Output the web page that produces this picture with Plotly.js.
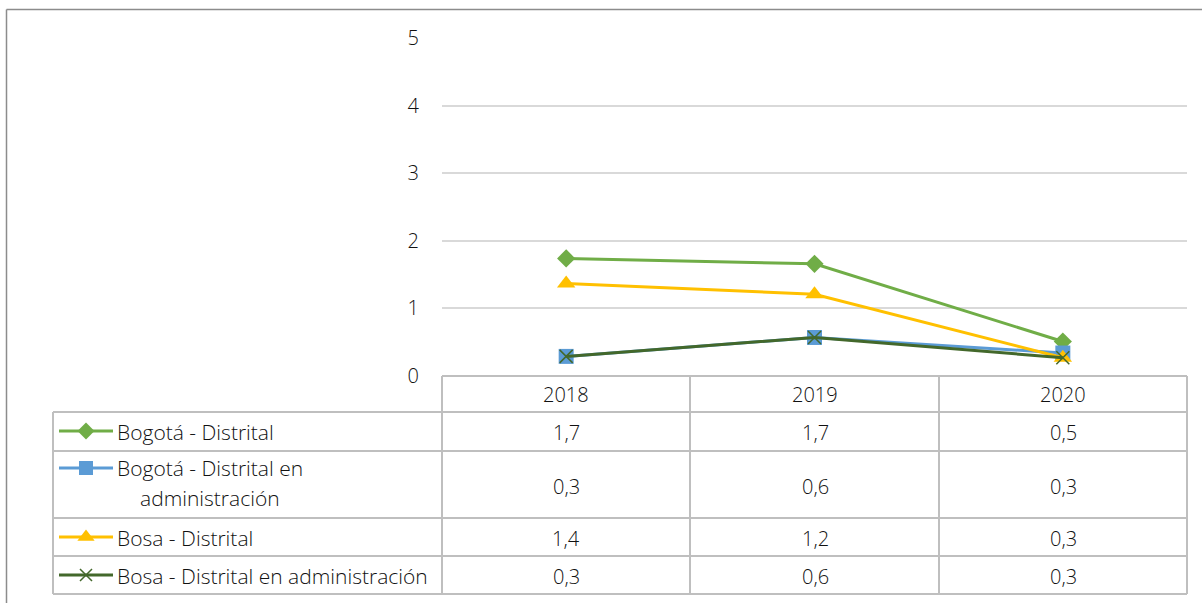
<!DOCTYPE html>
<html>
<head>
<meta charset="utf-8">
<script src="https://cdn.plot.ly/plotly-3.0.1.min.js"></script>
<style>html,body{margin:0;padding:0;background:#fff;}#chart{width:1202px;height:603px;}</style>
</head>
<body>
<div id="chart"></div>
<script>
// ---- data ----
const years = ['2018', '2019', '2020'];
const seriesNames = ['Bogotá - Distrital', 'Bogotá - Distrital en administración', 'Bosa - Distrital', 'Bosa - Distrital en administración'];
const bogotaDistrital = [1.74, 1.66, 0.51];
const bogotaAdmin = [0.29, 0.57, 0.34];
const bosaDistrital = [1.37, 1.21, 0.27];
const bosaAdmin = [0.29, 0.57, 0.27];
const yTicks = [0, 1, 2, 3, 4, 5];

// ---- layout constants (pixels) ----
const W = 1202, H = 603;
const colors = ['#70AD47', '#5B9BD5', '#FFC000', '#43682B'];
const symbols = ['diamond', 'square', 'triangle-up', 'x-thin'];
const msize = [14, 15, 16, 13];
const seriesVals = [bogotaDistrital, bogotaAdmin, bosaDistrital, bosaAdmin];
const plotL = 442, plotR = 1187, plotT = 38, plotB = 376;
const tableL = 53, headB = 412;
const rowB = [451, 518, 556, 594];
const colX = [442, 690, 939, 1187];
const px = x => x / W, py = y => 1 - y / H;
const FONT = '"Open Sans", "Noto Sans", sans-serif';
const TXT = '#111111';
const fnt = (s) => ({family: FONT, size: s || 20, color: TXT, weight: 300});

const traces = seriesVals.map((v, i) => ({
  x: years, y: v, type: 'scatter', mode: 'lines+markers', name: seriesNames[i],
  line: {color: colors[i], width: 3},
  marker: {symbol: symbols[i], size: msize[i], color: colors[i],
           line: {color: colors[i], width: symbols[i] === 'x-thin' ? 1.5 : 0}},
  xaxis: 'x', yaxis: 'y', showlegend: false, hoverinfo: 'skip'
}));

// legend keys in the table (helper axes in pixel units)
const keyY = [431, 468, 537, 575];
seriesVals.forEach((v, i) => {
  traces.push({
    x: [59, 113], y: [keyY[i], keyY[i]], type: 'scatter', mode: 'lines',
    line: {color: colors[i], width: 3}, xaxis: 'x2', yaxis: 'y2', showlegend: false, hoverinfo: 'skip'
  });
  traces.push({
    x: [86], y: [keyY[i]], type: 'scatter', mode: 'markers',
    marker: {symbol: symbols[i], size: msize[i] - 1, color: colors[i],
             line: {color: colors[i], width: symbols[i] === 'x-thin' ? 1.5 : 0}},
    xaxis: 'x2', yaxis: 'y2', showlegend: false, hoverinfo: 'skip'
  });
});

const shapes = [];
const lineC = '#BFBFBF';
function hl(y, x0, x1) { shapes.push({type: 'line', xref: 'paper', yref: 'paper', x0: px(x0), x1: px(x1), y0: py(y), y1: py(y), line: {color: lineC, width: 2}}); }
function vl(x, y0, y1) { shapes.push({type: 'line', xref: 'paper', yref: 'paper', x0: px(x), x1: px(x), y0: py(y0), y1: py(y1), line: {color: lineC, width: 2}}); }
hl(plotB, plotL, plotR);
hl(headB, tableL, plotR);
rowB.forEach(y => hl(y, tableL, plotR));
vl(tableL, headB, rowB[3]);
colX.forEach(x => vl(x, plotB, rowB[3]));
// outer chart frame (cropped)
shapes.push({type: 'line', xref: 'paper', yref: 'paper', x0: px(6.5), x1: px(W), y0: py(9.5), y1: py(9.5), line: {color: '#8C8C8C', width: 1.5}});
shapes.push({type: 'line', xref: 'paper', yref: 'paper', x0: px(6.5), x1: px(6.5), y0: py(9.5), y1: py(H), line: {color: '#8C8C8C', width: 1.5}});

const annotations = [];
const fmt = v => v.toFixed(1).replace('.', ',');
const colCenters = [566, 815, 1063];
years.forEach((yr, j) => annotations.push({xref: 'paper', yref: 'paper', x: px(colCenters[j]), y: py(394), text: yr, showarrow: false, xanchor: 'center', yanchor: 'middle', font: fnt(20)}));
const valY = [432, 486, 538, 576];
seriesVals.forEach((v, i) => {
  v.forEach((val, j) => annotations.push({xref: 'paper', yref: 'paper', x: px(colCenters[j]), y: py(valY[i]), text: fmt(val), showarrow: false, xanchor: 'center', yanchor: 'middle', font: fnt(20)}));
});
// series names
const nameX = 115, NS = 21;
annotations.push({xref: 'paper', yref: 'paper', x: px(nameX), y: py(432), text: seriesNames[0], showarrow: false, xanchor: 'left', yanchor: 'middle', font: fnt(NS)});
const n2 = seriesNames[1].split(' en ');
annotations.push({xref: 'paper', yref: 'paper', x: px(nameX), y: py(468), text: n2[0] + ' en', showarrow: false, xanchor: 'left', yanchor: 'middle', font: fnt(NS)});
annotations.push({xref: 'paper', yref: 'paper', x: px(138), y: py(498), text: n2[1], showarrow: false, xanchor: 'left', yanchor: 'middle', font: fnt(NS)});
annotations.push({xref: 'paper', yref: 'paper', x: px(nameX), y: py(538), text: seriesNames[2], showarrow: false, xanchor: 'left', yanchor: 'middle', font: fnt(NS)});
annotations.push({xref: 'paper', yref: 'paper', x: px(nameX), y: py(576), text: seriesNames[3], showarrow: false, xanchor: 'left', yanchor: 'middle', font: fnt(NS)});

const layout = {
  width: W, height: H, margin: {l: 0, r: 0, t: 0, b: 0},
  paper_bgcolor: '#fff', plot_bgcolor: 'rgba(0,0,0,0)',
  font: fnt(20),
  xaxis: {domain: [px(plotL), px(plotR)], range: [-0.5, 2.5], type: 'category', categoryarray: years, anchor: 'y',
          showgrid: false, zeroline: false, showline: false, showticklabels: false, ticks: '', fixedrange: true},
  yaxis: {domain: [py(plotB), py(plotT)], range: [0, 5], tickvals: yTicks, ticktext: yTicks.map(String), anchor: 'x',
          showgrid: true, gridcolor: '#D9D9D9', gridwidth: 2, zeroline: false, showline: false,
          ticks: '', ticklabelstandoff: 22, tickfont: fnt(20), fixedrange: true},
  xaxis2: {domain: [0, 1], range: [0, W], visible: false, anchor: 'y2', fixedrange: true},
  yaxis2: {domain: [0, 1], range: [H, 0], visible: false, anchor: 'x2', fixedrange: true},
  shapes: shapes, annotations: annotations, showlegend: false
};

Plotly.newPlot('chart', traces, layout, {displayModeBar: false, staticPlot: true});
</script>
</body>
</html>
